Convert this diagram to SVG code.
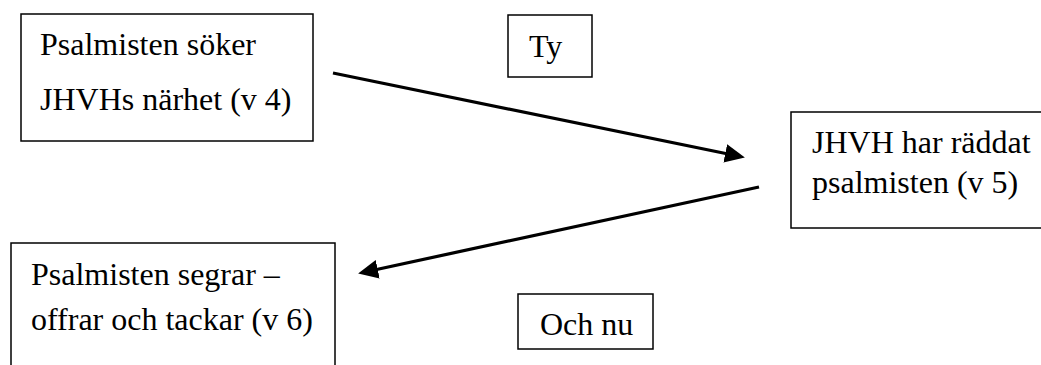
<svg xmlns="http://www.w3.org/2000/svg" width="1041" height="365" viewBox="0 0 1041 365">
<style>
.box{fill:#fff;stroke:#000;stroke-width:1.5}
.t{font-family:"Liberation Serif","Times New Roman",serif;font-size:32px;fill:#000}
.conn{stroke:#000;stroke-width:3.2;fill:none}
</style>
<defs>
<marker id="ah" markerUnits="userSpaceOnUse" markerWidth="20" markerHeight="20" viewBox="0 0 17 16" refX="12" refY="8" orient="auto">
<path d="M0,0 L17,8 L0,16 Z" fill="#000"/>
</marker>
</defs>
<rect width="1041" height="365" fill="#fff"/>
<g id="node-sokar">
<rect class="box" x="21" y="14" width="292" height="127"/>
<text class="t" x="40" y="55">Psalmisten söker</text>
<text class="t" x="40" y="110">JHVHs närhet (v 4)</text>
</g>
<g id="node-ty">
<rect class="box" x="508" y="15" width="84" height="62"/>
<text class="t" x="529" y="57">Ty</text>
</g>
<g id="node-raddat">
<rect class="box" x="791" y="112" width="260" height="116"/>
<text class="t" x="812" y="153">JHVH har räddat</text>
<text class="t" x="812" y="193">psalmisten (v 5)</text>
</g>
<g id="node-segrar">
<rect class="box" x="11" y="243" width="324" height="140"/>
<text class="t" x="31" y="285">Psalmisten segrar –</text>
<text class="t" x="31" y="330">offrar och tackar (v 6)</text>
</g>
<g id="node-ochnu">
<rect class="box" x="518" y="294" width="135" height="55"/>
<text class="t" x="540" y="335">Och nu</text>
</g>
<g id="connectors">
<line class="conn" x1="333" y1="73" x2="739.1" y2="156.2" marker-end="url(#ah)"/>
<line class="conn" x1="759" y1="187" x2="363.9" y2="272.2" marker-end="url(#ah)"/>
</g>
</svg>
